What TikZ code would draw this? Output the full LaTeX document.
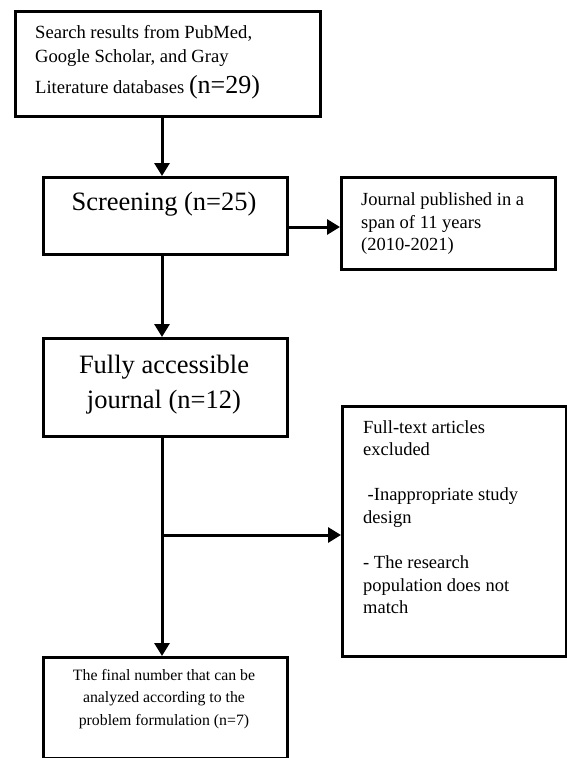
\documentclass[tikz,border=0pt]{standalone}
\usepackage{fontspec}
\setmainfont{Liberation Serif}
\usetikzlibrary{arrows.meta}
\begin{document}
\begin{tikzpicture}[x=1pt,y=1pt,
  box/.style={draw=black, line width=3pt, fill=white, inner sep=0pt, anchor=north west},
  conn/.style={line width=3pt, -{Triangle[length=13pt,width=15pt]}},
  txt/.style={inner sep=0pt, text=black}]
\useasboundingbox (0,0) rectangle (566,-758);
\fill[white] (0,0) rectangle (566,-758);

% boxes
\node[box, minimum width=305pt, minimum height=105pt] (b1) at (14,-10) {};
\node[box, minimum width=244pt, minimum height=77pt] (scr) at (42,-176) {};
\node[box, minimum width=214pt, minimum height=92pt] (jrn) at (340,-176) {};
\node[box, minimum width=244pt, minimum height=98pt] (full) at (42,-337) {};
\node[box, minimum width=224pt, minimum height=250pt] (exc) at (341,-405) {};
\node[box, minimum width=244pt, minimum height=101pt] (fin) at (42,-656) {};

% texts (anchored at the baseline of their last line)
\node[txt, anchor=base west, align=left, font=\fontsize{18.6}{24}\selectfont] (t1) at (35,-93)
  {Search results from PubMed,\\ Google Scholar, and Gray\\[7pt] Literature databases {\fontsize{26}{26}\selectfont(n=29)}};
\node[txt, anchor=base, font=\fontsize{26.5}{35}\selectfont] (t2) at (164,-210) {Screening (n=25)};
\node[txt, anchor=base west, align=left, font=\fontsize{18.5}{22.5}\selectfont] (t3) at (361,-250.5)
  {Journal published in a\\ span of 11 years\\ (2010-2021)};
\node[txt, anchor=base, align=center, font=\fontsize{26.5}{35}\selectfont] (t4) at (164,-408)
  {Fully accessible\\ journal (n=12)};
\node[txt, anchor=base west, align=left, font=\fontsize{18.5}{22.6}\selectfont] (t5) at (363,-613.8)
  {Full-text articles\\ excluded\\ \mbox{}\\ \hspace{4.5pt}-Inappropriate study\\ design\\ \mbox{}\\ - The research\\ population does not\\ match};
\node[txt, anchor=base, align=center, font=\fontsize{15.8}{22.7}\selectfont] (t6) at (164,-725.4)
  {The final number that can be\\ analyzed according to the\\ problem formulation (n=7)};

% connectors
\coordinate (p1) at (162,-115);
\coordinate (p2) at (162,-253);
\coordinate (p3) at (162,-435);
\coordinate (br) at (162,-535);
\draw[conn] (p1) -- (p1 |- scr.north);
\draw[conn] (p2) -- (p2 |- full.north);
\draw[conn] (scr.east |- 0,-227) -- (jrn.west |- 0,-227);
\draw[conn] (p3) -- (p3 |- fin.north);
\draw[conn] (br) -- (br -| exc.west);
\end{tikzpicture}
\end{document}
